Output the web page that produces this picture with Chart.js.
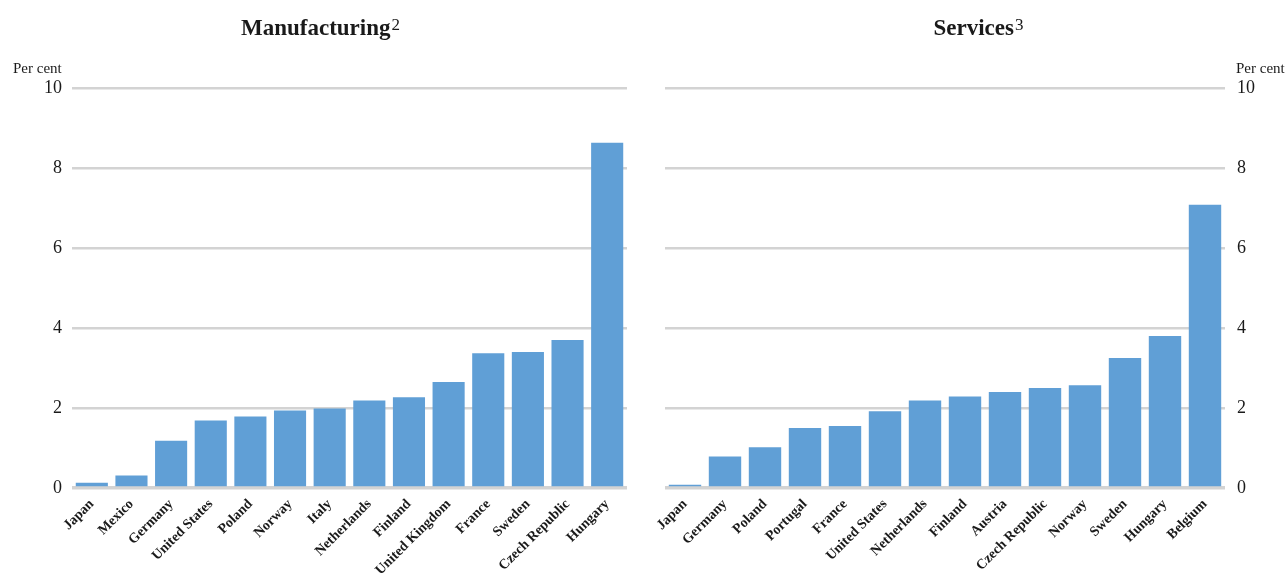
<!DOCTYPE html>
<html>
<head>
<meta charset="utf-8">
<script src="https://cdn.jsdelivr.net/npm/chart.js@4"></script>
<style>
  body { margin: 0; background: #fff; }
  #wrap { position: relative; width: 1287px; height: 575px; }
  canvas { position: absolute; top: 0; }
</style>
</head>
<body>
<div id="wrap">
  <canvas id="manuf" width="640" height="575" style="left:0"></canvas>
  <canvas id="serv" width="647" height="575" style="left:640px"></canvas>
</div>
<script>
var manufCountries = ["Japan", "Mexico", "Germany", "United States", "Poland", "Norway", "Italy",
    "Netherlands", "Finland", "United Kingdom", "France", "Sweden", "Czech Republic", "Hungary"];
var manufValues = [0.13, 0.31, 1.18, 1.69, 1.79, 1.94, 1.99, 2.19, 2.27, 2.65, 3.37, 3.4, 3.7, 8.63];

var servCountries = ["Japan", "Germany", "Poland", "Portugal", "France", "United States", "Netherlands",
    "Finland", "Austria", "Czech Republic", "Norway", "Sweden", "Hungary", "Belgium"];
var servValues = [0.08, 0.79, 1.02, 1.5, 1.55, 1.92, 2.19, 2.29, 2.4, 2.5, 2.57, 3.25, 3.8, 7.08];

var yTicks = [0, 2, 4, 6, 8, 10];

var SERIF = "'Liberation Serif', 'DejaVu Serif', serif";
var barColor = "#609fd6";
var gridColor = "#d3d3d3";

// title with a raised footnote digit, plus the "Per cent" unit label
function headerPlugin(title, note, titleX, unitX) {
    return {
        id: 'header',
        afterDraw: function(chart) {
            var c = chart.ctx;
            c.save();
            c.fillStyle = "#1a1a1a";
            c.textBaseline = "alphabetic";
            c.font = "bold 23px " + SERIF;
            var w = c.measureText(title).width;
            c.font = "17px " + SERIF;
            var nw = c.measureText(note).width;
            var x0 = titleX - (w + nw) / 2;
            c.font = "bold 23px " + SERIF;
            c.textAlign = "left";
            c.fillText(title, x0, 35);
            c.font = "17px " + SERIF;
            c.fillText(note, x0 + w + 1, 30);
            c.font = "15px " + SERIF;
            c.fillText("Per cent", unitX, 73);
            c.restore();
        }
    };
}

function makeChart(id, labels, values, side, padding, yWidth, plugin) {
    return new Chart(document.getElementById(id), {
        type: 'bar',
        data: {
            labels: labels,
            datasets: [{
                data: values,
                backgroundColor: barColor,
                categoryPercentage: 1.0,
                barPercentage: 0.81
            }]
        },
        options: {
            responsive: false,
            animation: false,
            layout: { padding: padding },
            plugins: {
                legend: { display: false },
                tooltip: { enabled: false }
            },
            scales: {
                x: {
                    grid: { display: false },
                    border: { display: false },
                    ticks: {
                        autoSkip: false,
                        maxRotation: 45,
                        minRotation: 45,
                        padding: 0,
                        color: "#1a1a1a",
                        font: { family: SERIF, size: 14, weight: 'bold' }
                    },
                    afterFit: function(s) { s.height = 87; }
                },
                y: {
                    position: side,
                    min: 0,
                    max: 10,
                    afterBuildTicks: function(s) {
                        s.ticks = yTicks.map(function(v) { return { value: v }; });
                    },
                    grid: {
                        color: gridColor,
                        lineWidth: function(ctx) { return ctx.tick && ctx.tick.value === 0 ? 3.5 : 2.5; },
                        drawTicks: false
                    },
                    border: { display: false },
                    ticks: {
                        padding: side === 'left' ? 10 : 12,
                        color: "#1a1a1a",
                        font: { family: SERIF, size: 18 }
                    },
                    afterFit: function(s) { s.width = yWidth; }
                }
            }
        },
        plugins: [plugin]
    });
}

makeChart("manuf", manufCountries, manufValues, 'left',
    { top: 88, right: 13, left: 0, bottom: 0 }, 72,
    headerPlugin("Manufacturing", "2", 320, 13));

makeChart("serv", servCountries, servValues, 'right',
    { top: 88, right: 0, left: 25, bottom: 0 }, 62,
    headerPlugin("Services", "3", 338, 596));
</script>
</body>
</html>
